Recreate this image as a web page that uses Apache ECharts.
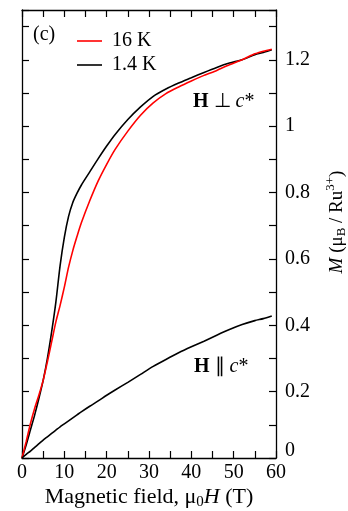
<!DOCTYPE html>
<html>
<head>
<meta charset="utf-8">
<script src="https://cdn.jsdelivr.net/npm/echarts@6/dist/echarts.min.js"></script>
<style>
  html, body { margin: 0; padding: 0; background: #fff; }
  #main { width: 348px; height: 511px; }
</style>
</head>
<body>
<div id="main"></div>
<script>
const field = [0, 1, 2, 3, 4, 5, 6, 7, 8, 9, 10, 11, 12, 13, 14, 16, 18, 20, 22, 25, 28, 31, 34, 37, 40, 43, 46, 49, 52, 55, 57, 59];
// H perp c*, 1.4 K
const perp14K = [0, 0.04, 0.085, 0.13, 0.18, 0.234, 0.3, 0.38, 0.47, 0.58, 0.665, 0.728, 0.77, 0.798, 0.822, 0.862, 0.902, 0.94, 0.975, 1.02, 1.058, 1.09, 1.112, 1.13, 1.146, 1.162, 1.177, 1.19, 1.2, 1.215, 1.222, 1.23];
// H perp c*, 16 K
const perp16K = [0, 0.05, 0.104, 0.15, 0.19, 0.234, 0.29, 0.35, 0.41, 0.46, 0.515, 0.575, 0.625, 0.668, 0.708, 0.775, 0.835, 0.885, 0.93, 0.985, 1.033, 1.07, 1.098, 1.118, 1.136, 1.153, 1.168, 1.185, 1.2, 1.218, 1.226, 1.232];
// H || c*, 1.4 K
const para14K = [0, 0.011, 0.021, 0.032, 0.043, 0.054, 0.064, 0.074, 0.084, 0.094, 0.103, 0.112, 0.121, 0.13, 0.139, 0.156, 0.172, 0.189, 0.205, 0.228, 0.252, 0.276, 0.297, 0.317, 0.335, 0.352, 0.37, 0.387, 0.402, 0.414, 0.42, 0.428];
const legendNames = ['16 K', '1.4 K'];
const xTickLabels = [0, 10, 20, 30, 40, 50, 60];
const yTickLabels = ['0', '0.2', '0.4', '0.6', '0.8', '1', '1.2'];

const FONT = '"Liberation Serif", "Times New Roman", serif';
const pairs = (ys) => field.map((x, i) => [x, ys[i]]);

const chart = echarts.init(document.getElementById('main'));

const axisLine = { show: true, onZero: false, lineStyle: { color: '#000', width: 1.3 } };
const axisTick = { show: true, inside: true, length: 7, lineStyle: { color: '#000', width: 1.2 } };

const xBase = {
  type: 'value', min: 0, max: 60, interval: 5,
  axisLine: axisLine, axisTick: axisTick, splitLine: { show: false },
};
const yBase = {
  type: 'value', min: 0, max: 1.35, interval: 0.1,
  axisLine: axisLine, axisTick: axisTick, splitLine: { show: false },
};

const option = {
  animation: false,
  backgroundColor: '#fff',
  textStyle: { fontFamily: FONT },
  grid: { left: 22, right: 72, top: 10, bottom: 53, containLabel: false, outerBoundsMode: 'none' },
  legend: {
    orient: 'vertical', left: 72, top: 26,
    icon: 'rect', itemWidth: 25, itemHeight: 1.6, itemGap: 4,
    data: legendNames,
    textStyle: { fontFamily: FONT, fontSize: 20, color: '#000', padding: [0, 0, 0, 5] },
  },
  xAxis: [
    Object.assign({}, xBase, {
      position: 'bottom',
      axisLabel: {
        color: '#000', fontFamily: FONT, fontSize: 20, margin: 5,
        formatter: (v) => (xTickLabels.includes(v) ? String(v) : ''),
      },
      name: 'Magnetic field, μ{sub|0}{i|H} (T)',
      nameLocation: 'middle', nameGap: 27, nameMoveOverlap: false,
      nameTextStyle: {
        color: '#000', fontFamily: FONT, fontSize: 22,
        rich: {
          sub: { fontFamily: FONT, fontSize: 15, color: '#000', padding: [10, 0, 0, 0] },
          i: { fontFamily: FONT, fontSize: 22, fontStyle: 'italic', color: '#000' },
        },
      },
    }),
    Object.assign({}, xBase, { position: 'top', axisLabel: { show: false } }),
  ],
  yAxis: [
    Object.assign({}, yBase, {
      position: 'right',
      axisLabel: {
        color: '#000', fontFamily: FONT, fontSize: 20, margin: 9,
        formatter: (v) => {
          const r = Math.round(v * 10);
          if (Math.abs(v * 10 - r) > 0.01 || r % 2) return '';
          const s = String(r / 10);
          if (!yTickLabels.includes(s)) return '';
          return s === '0' ? '{z|0}' : s;
        },
        rich: { z: { fontFamily: FONT, fontSize: 20, color: '#000', padding: [0, 0, 14, 0] } },
      },
    }),
    Object.assign({}, yBase, { position: 'left', axisLabel: { show: false } }),
  ],
  series: [
    {
      name: '1.4 K', type: 'line', data: pairs(perp14K), smooth: 0.25,
      symbol: 'none', lineStyle: { color: '#000', width: 1.6 }, itemStyle: { color: '#000' },
    },
    {
      name: '16 K', type: 'line', data: pairs(perp16K), smooth: 0.25,
      symbol: 'none', lineStyle: { color: '#f00', width: 1.6 }, itemStyle: { color: '#f00' },
    },
    {
      name: 'H || c*', type: 'line', data: pairs(para14K), smooth: 0.25,
      symbol: 'none', lineStyle: { color: '#000', width: 1.6 }, itemStyle: { color: '#000' },
    },
  ],
  graphic: [
    {
      type: 'text', left: 33, top: 25,
      style: { text: '(c)', font: '20px "Liberation Serif"', fill: '#000' },
    },
    {
      type: 'text', left: 193, top: 92,
      style: {
        text: '{b|H} ⊥ {i|c}*', font: '20px "Liberation Serif"', fill: '#000',
        rich: {
          b: { fontFamily: FONT, fontSize: 20, fontWeight: 'bold', color: '#000' },
          i: { fontFamily: FONT, fontSize: 20, fontStyle: 'italic', color: '#000' },
        },
      },
    },
    {
      type: 'text', left: 194, top: 357,
      style: {
        text: '{b|H} ∥ {i|c}*', font: '20px "Liberation Serif"', fill: '#000',
        rich: {
          b: { fontFamily: FONT, fontSize: 20, fontWeight: 'bold', color: '#000' },
          i: { fontFamily: FONT, fontSize: 20, fontStyle: 'italic', color: '#000' },
        },
      },
    },
    {
      type: 'text', x: 337, y: 222, rotation: Math.PI / 2,
      style: {
        text: '{i|M} (μ{sub|B} / Ru{sup|3+})',
        font: '19px "Liberation Serif"', fill: '#000', align: 'center', verticalAlign: 'middle',
        rich: {
          i: { fontFamily: FONT, fontSize: 19, fontStyle: 'italic', color: '#000' },
          sub: { fontFamily: FONT, fontSize: 13, color: '#000', padding: [10, 0, 0, 0] },
          sup: { fontFamily: FONT, fontSize: 13, color: '#000', padding: [0, 0, 12, 0] },
        },
      },
    },
  ],
};

chart.setOption(option);
</script>
</body>
</html>
